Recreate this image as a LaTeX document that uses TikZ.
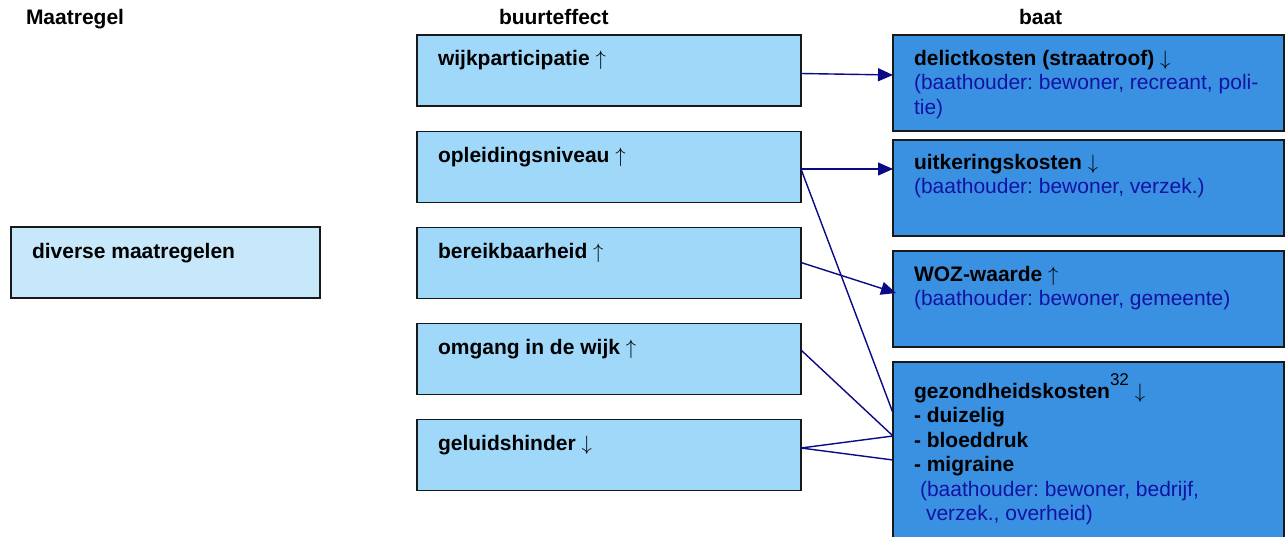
\documentclass[tikz,border=0pt]{standalone}
\usepackage{fontspec}
\setmainfont{Liberation Sans}
\usetikzlibrary{arrows.meta,calc}

\definecolor{lightbox}{RGB}{198,232,250}
\definecolor{midbox}{RGB}{160,216,250}
\definecolor{darkbox}{RGB}{58,145,225}
\definecolor{holder}{RGB}{18,18,165}
\definecolor{link}{RGB}{10,10,135}

\newcommand{\up}{\ensuremath{\uparrow}}
\newcommand{\down}{\ensuremath{\downarrow}}

\begin{document}
\frenchspacing
\begin{tikzpicture}[x=1pt,y=-1pt,
  every node/.style={inner sep=0pt,outer sep=0pt},
  box/.style={draw=black!90,line width=1.4pt,rectangle,anchor=north west},
  maatbox/.style={box,fill=lightbox,minimum width=309pt,minimum height=71pt},
  effectbox/.style={box,fill=midbox,minimum width=384pt,minimum height=71pt},
  baatbox/.style={box,fill=darkbox,minimum width=391pt,minimum height=96pt},
  txt/.style={anchor=base west,font=\fontsize{21}{24.5}\selectfont\bfseries},
  multitxt/.style={anchor=north west,align=left,font=\fontsize{21}{24.5}\selectfont},
  conn/.style={draw=link,line width=1.4pt},
  arr/.style={conn,-{Triangle[length=15pt,width=13pt]}}
]
\clip (0,0) rectangle (1286,536);
\fill[white] (0,0) rectangle (1286,536);

% column headings
\node[txt] (hmaat) at (26,24.5) {Maatregel};
\node[txt] (hbuurt) at (499,24) {buurteffect};
\node[txt] (hbaat) at (1019,24.5) {baat};

% measure
\node[maatbox] (L) at (11,227) {};
\node[txt] (Lt) at (32,258) {diverse maatregelen};

% neighbourhood effects
\node[effectbox] (m1) at (417,35) {};
\node[effectbox] (m2) at (417,131.5) {};
\node[effectbox] (m3) at (417,227.5) {};
\node[effectbox] (m4) at (417,323.5) {};
\node[effectbox] (m5) at (417,419.5) {};
\node[txt] (m1t) at (438,65) {wijkparticipatie \up};
\node[txt] (m2t) at (438,162) {opleidingsniveau \up};
\node[txt] (m3t) at (438,258) {bereikbaarheid \up};
\node[txt] (m4t) at (438,354) {omgang in de wijk \up};
\node[txt] (m5t) at (438,450) {geluidshinder \down};

% benefits
\node[baatbox] (r1) at (893,35) {};
\node[baatbox] (r2) at (893,140) {};
\node[baatbox] (r3) at (893,251) {};
\node[baatbox,minimum height=190pt] (r4) at (893,362) {};

\node[multitxt] (r1t) at (914,45) {\rule{0pt}{20pt}\textbf{delictkosten (straatroof)} \down\\
  \color{holder}(baathouder: bewoner, recreant, poli-\\
  \color{holder}tie)};
\node[multitxt] (r2t) at (914,149) {\rule{0pt}{20pt}\textbf{uitkeringskosten} \down\\
  \color{holder}(baathouder: bewoner, verzek.)};
\node[multitxt] (r3t) at (914,261) {\rule{0pt}{20pt}\textbf{WOZ-waarde} \up\\
  \color{holder}(baathouder: bewoner, gemeente)};
\node[multitxt] (r4t) at (914,372) {\rule{0pt}{26pt}\textbf{gezondheidskosten}\raisebox{13pt}{\fontsize{17}{17}\selectfont 32} \down\\
  \textbf{- duizelig}\\
  \textbf{- bloeddruk}\\
  \textbf{- migraine}\\
  \hspace*{6pt}\color{holder}(baathouder: bewoner, bedrijf,\\
  \hspace*{12pt}\color{holder}verzek., overheid)};

% links from effects to benefits
\draw[arr] ($(m1.north east)+(0,38.5)$) -- ($(r1.north west)+(0,40)$);
\draw[arr] ($(m2.north east)+(0,37.5)$) -- ($(r2.north west)+(0,29)$);
\draw[conn] ($(m2.north east)+(0,37.5)$) -- ($(r4.north west)+(0,51)$);
\draw[arr] ($(m3.north east)+(0,35)$) -- ($(r3.north west)+(3,42)$);
\draw[conn] ($(m4.north east)+(0,26.5)$) -- ($(r4.north west)+(0,74)$);
\draw[conn] ($(m5.north east)+(0,28.5)$) -- ($(r4.north west)+(0,74)$);
\draw[conn] ($(m5.north east)+(0,28.5)$) -- ($(r4.north west)+(0,98)$);
\end{tikzpicture}
\end{document}
